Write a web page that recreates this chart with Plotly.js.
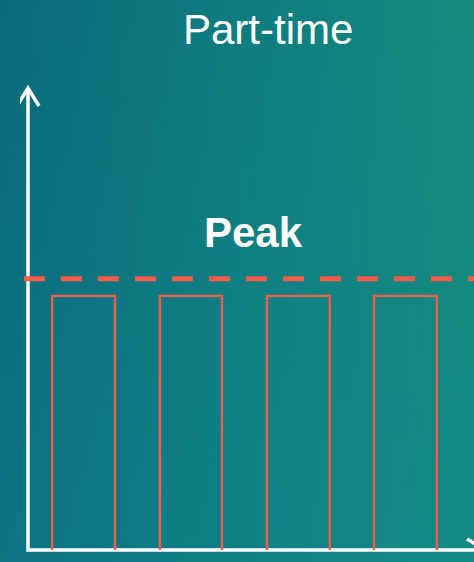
<!DOCTYPE html>
<html>
<head>
<meta charset="utf-8">
<script src="https://cdn.plot.ly/plotly-3.0.1.min.js"></script>
<style>
  html, body { margin: 0; padding: 0; }
  body {
    width: 474px; height: 562px; overflow: hidden;
    background:
      linear-gradient(to bottom, rgba(16,140,150,0) 0%, rgba(16,140,150,0.28) 100%),
      linear-gradient(to right, #0b6a7a 0%, #0f7c7f 50%, #148a7c 100%);
  }
  #chart { width: 474px; height: 562px; }
</style>
</head>
<body>
<div id="chart"></div>
<script>
// ---- data ----
const titleText = 'Part-time';
const peakLabel = 'Peak';
const shiftStart = [0.65, 3.55, 6.43, 9.31];
const shiftEnd   = [2.34, 5.22, 8.12, 11.0];
const shiftLevel = [5.5, 5.5, 5.5, 5.5];
const peakLevel  = 5.87;
const timeMax    = 12.3;   // end of the time axis (arrow tip)
const levelMax   = 10;     // top of the level axis (arrow tip)

// ---- styles ----
const RED = '#f45b48';
const WHITE = '#ffffff';
const FONT = 'Liberation Sans, Arial, sans-serif';

// pulse outline trace built from the shift arrays
const px = [], py = [];
for (let i = 0; i < shiftStart.length; i++) {
  px.push(shiftStart[i], shiftStart[i], shiftEnd[i], shiftEnd[i], null);
  py.push(0, shiftLevel[i], shiftLevel[i], 0, null);
}

const pulses = {
  type: 'scatter', mode: 'lines', x: px, y: py,
  line: { color: RED, width: 2.4 }, hoverinfo: 'skip', showlegend: false,
  connectgaps: false
};

const peakLine = {
  type: 'scatter', mode: 'lines',
  x: [-0.108, timeMax], y: [peakLevel, peakLevel],
  line: { color: RED, width: 5, dash: '21px,16px' },
  hoverinfo: 'skip', showlegend: false
};

const layout = {
  width: 474, height: 562,
  margin: { l: 20, r: 0, t: 80, b: 8 },
  paper_bgcolor: 'rgba(0,0,0,0)',
  plot_bgcolor: 'rgba(0,0,0,0)',
  showlegend: false,
  xaxis: {
    range: [-0.215, 12], showgrid: false, zeroline: false,
    showticklabels: false, showline: false, ticks: '', fixedrange: true
  },
  yaxis: {
    range: [-0.0866, 10.173], showgrid: false, zeroline: false,
    showticklabels: false, showline: false, ticks: '', fixedrange: true
  },
  shapes: [
    { type: 'path', xref: 'x', yref: 'y', layer: 'below',
      path: 'M 0,' + levelMax + ' L 0,0 L ' + timeMax + ',0',
      line: { color: WHITE, width: 3.5 } },
    { type: 'path', xref: 'x', yref: 'y', layer: 'below',
      xsizemode: 'pixel', ysizemode: 'pixel', xanchor: 0, yanchor: levelMax,
      path: 'M -11,-18 L 0,0 L 11,-18',
      line: { color: WHITE, width: 3.5 } },
    { type: 'path', xref: 'x', yref: 'y', layer: 'below',
      xsizemode: 'pixel', ysizemode: 'pixel', xanchor: timeMax, yanchor: 0,
      path: 'M -18,11 L 0,0 L -18,-11',
      line: { color: WHITE, width: 3.5 } }
  ],
  annotations: [
    { text: titleText, xref: 'paper', yref: 'paper',
      x: 0.547, y: 1.107, xanchor: 'center', yanchor: 'middle',
      showarrow: false, font: { family: FONT, size: 42, color: WHITE } },
    { text: '<b>' + peakLabel + '</b>', xref: 'x', yref: 'y',
      x: 6.08, y: peakLevel, xanchor: 'center', yanchor: 'middle', yshift: 46,
      showarrow: false, font: { family: FONT, size: 42, color: WHITE } }
  ]
};

Plotly.newPlot('chart', [pulses, peakLine], layout, { displayModeBar: false, staticPlot: true });
</script>
</body>
</html>
